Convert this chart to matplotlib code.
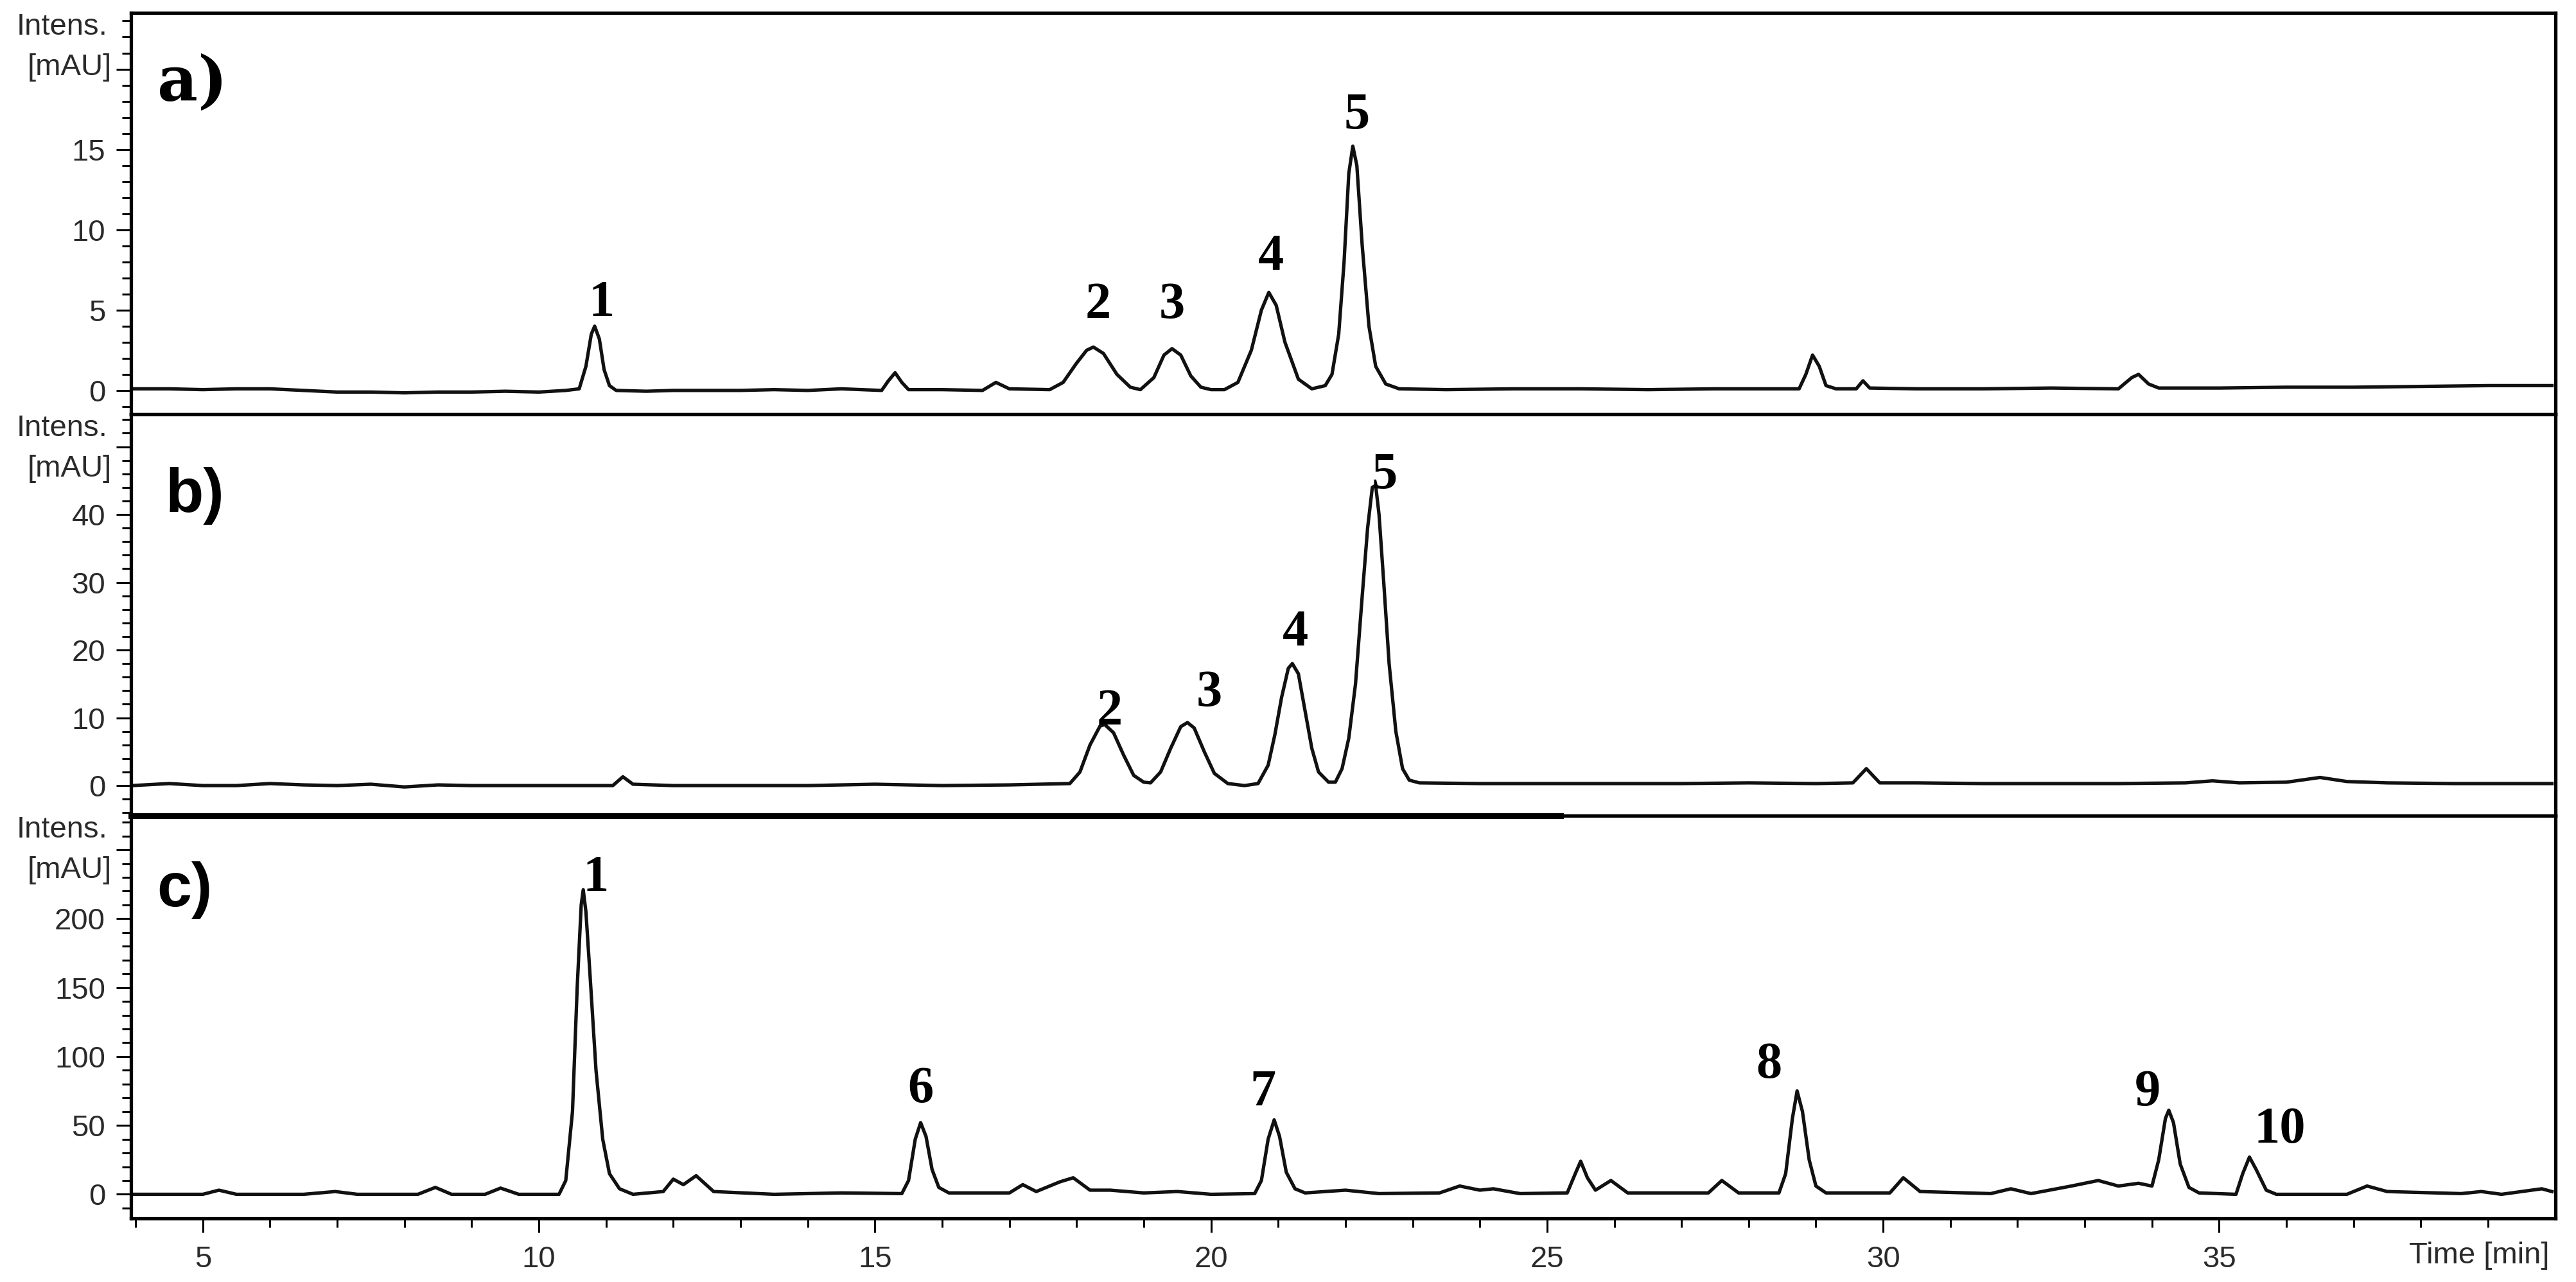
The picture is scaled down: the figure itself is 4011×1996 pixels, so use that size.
import matplotlib
matplotlib.use("Agg")
import matplotlib.pyplot as plt
from matplotlib.lines import Line2D

# ---- traced chromatogram a) ----
a_time = [3.95, 4.5, 5.0, 5.5, 6.0, 6.5, 7.0, 7.5, 8.0, 8.5, 9.0, 9.5, 10.0, 10.4,
          10.6, 10.7, 10.78, 10.83, 10.9, 10.97, 11.05, 11.15, 11.6, 12.0, 12.5, 13.0,
          13.5, 14.0, 14.5, 15.1, 15.2, 15.3, 15.4, 15.5, 16.0, 16.6, 16.8, 17.0,
          17.6, 17.8, 18.0, 18.15, 18.25, 18.4, 18.6, 18.8, 18.95, 19.15, 19.3, 19.42,
          19.55, 19.7, 19.85, 20.0, 20.2, 20.4, 20.6, 20.75, 20.86, 20.97, 21.1, 21.3,
          21.5, 21.7, 21.8, 21.9, 21.98, 22.05, 22.11, 22.17, 22.25, 22.35, 22.45,
          22.6, 22.8, 23.5, 24.5, 25.5, 26.5, 27.5, 28.3, 28.75, 28.85, 28.95, 29.05,
          29.15, 29.3, 29.6, 29.7, 29.8, 30.5, 31.5, 32.5, 33.5, 33.7, 33.8, 33.95,
          34.1, 35.0, 36.0, 37.0, 38.0, 39.0, 39.95]
a_int = [0.1, 0.1, 0.05, 0.1, 0.1, 0.0, -0.1, -0.1, -0.15, -0.1, -0.1, -0.05, -0.1, 0.0,
         0.1, 1.5, 3.5, 4.0, 3.2, 1.3, 0.3, 0.0, -0.05, 0.0, 0.0, 0.0,
         0.05, 0.0, 0.1, 0.0, 0.6, 1.1, 0.5, 0.05, 0.05, 0.0, 0.5, 0.1,
         0.05, 0.5, 1.7, 2.5, 2.7, 2.3, 1.0, 0.2, 0.05, 0.8, 2.2, 2.6,
         2.2, 0.9, 0.2, 0.05, 0.05, 0.5, 2.5, 5.0, 6.1, 5.3, 3.0, 0.7,
         0.1, 0.3, 1.0, 3.5, 8.0, 13.5, 15.2, 14.0, 9.0, 4.0, 1.5,
         0.4, 0.1, 0.05, 0.1, 0.1, 0.05, 0.1, 0.1, 0.1, 1.0, 2.2, 1.5,
         0.3, 0.1, 0.1, 0.6, 0.15, 0.1, 0.1, 0.15, 0.1, 0.8, 1.0, 0.4,
         0.15, 0.15, 0.2, 0.2, 0.25, 0.3, 0.3]

# ---- traced chromatogram b) ----
b_time = [3.95, 4.5, 5.0, 5.5, 6.0, 6.5, 7.0, 7.5, 8.0, 8.5, 9.0, 9.5, 10.0, 10.5,
          11.1, 11.25, 11.4, 12.0, 13.0, 14.0, 15.0, 16.0, 17.0, 17.9, 18.05, 18.2,
          18.35, 18.42, 18.55, 18.7, 18.85, 19.0, 19.1, 19.25, 19.4, 19.55, 19.65,
          19.75, 19.9, 20.05, 20.25, 20.5, 20.7, 20.85, 20.95, 21.05, 21.15, 21.21,
          21.3, 21.4, 21.5, 21.6, 21.75, 21.85, 21.95, 22.05, 22.15, 22.25, 22.33,
          22.4, 22.45, 22.5, 22.57, 22.65, 22.75, 22.85, 22.95, 23.1, 24.0, 25.0,
          26.0, 27.0, 28.0, 29.0, 29.55, 29.75, 29.95, 30.5, 31.5, 32.5, 33.5, 34.5,
          34.9, 35.3, 36.0, 36.5, 36.9, 37.5, 38.5, 39.95]
b_int = [0.0, 0.3, 0.0, 0.0, 0.3, 0.1, 0.0, 0.2, -0.2, 0.1, 0.0, 0.0, 0.0, 0.0,
         0.0, 1.3, 0.2, 0.0, 0.0, 0.0, 0.2, 0.0, 0.1, 0.3, 2.0, 6.0,
         8.8, 9.0, 7.8, 4.5, 1.5, 0.5, 0.4, 2.0, 5.5, 8.7, 9.3,
         8.5, 5.0, 1.8, 0.3, 0.0, 0.3, 3.0, 7.5, 13.0, 17.3, 18.0,
         16.5, 11.0, 5.5, 2.0, 0.5, 0.5, 2.5, 7.0, 15.0, 28.0, 38.0,
         44.0, 44.3, 40.0, 30.0, 18.0, 8.0, 2.5, 0.8, 0.4, 0.3, 0.3,
         0.3, 0.3, 0.4, 0.3, 0.4, 2.5, 0.4, 0.4, 0.3, 0.3, 0.3, 0.4,
         0.7, 0.4, 0.5, 1.2, 0.6, 0.4, 0.3, 0.3]

# ---- traced chromatogram c) ----
c_time = [3.95, 5.0, 5.24, 5.5, 6.5, 6.97, 7.3, 8.2, 8.46, 8.7, 9.2, 9.43, 9.7, 10.3,
          10.4, 10.5, 10.57, 10.63, 10.66, 10.7, 10.76, 10.85, 10.95, 11.05, 11.2,
          11.4, 11.85, 12.0, 12.15, 12.34, 12.6, 13.5, 14.5, 15.4, 15.5, 15.6, 15.68,
          15.76, 15.85, 15.95, 16.1, 17.0, 17.2, 17.4, 17.75, 17.95, 18.2, 18.5, 19.0,
          19.5, 20.0, 20.65, 20.75, 20.85, 20.94, 21.02, 21.12, 21.25, 21.4, 22.0,
          22.5, 23.4, 23.7, 24.0, 24.2, 24.6, 25.3, 25.42, 25.5, 25.6, 25.72, 25.95,
          26.2, 27.4, 27.6, 27.85, 28.45, 28.55, 28.65, 28.72, 28.8, 28.9, 29.0,
          29.15, 30.1, 30.3, 30.55, 31.6, 31.9, 32.2, 32.8, 33.2, 33.5, 33.8, 34.0,
          34.1, 34.2, 34.25, 34.32, 34.42, 34.55, 34.7, 35.25, 35.35, 35.45, 35.55,
          35.7, 35.85, 36.9, 37.2, 37.5, 38.6, 38.9, 39.2, 39.8, 39.95]
c_int = [0.0, 0.0, 3.0, 0.0, 0.0, 2.0, 0.0, 0.0, 5.0, 0.0, 0.0, 4.5, 0.0, 0.0,
         10.0, 60.0, 150.0, 210.0, 221.0, 205.0, 160.0, 90.0, 40.0, 15.0, 4.0,
         0.0, 2.0, 11.0, 7.0, 13.5, 2.0, 0.0, 1.0, 0.5, 10.0, 40.0, 52.0,
         42.0, 18.0, 5.0, 1.0, 1.0, 7.0, 2.0, 9.0, 12.0, 3.0, 3.0, 1.0,
         2.0, 0.0, 0.5, 10.0, 40.0, 54.0, 42.0, 16.0, 4.0, 1.0, 3.0,
         0.5, 1.0, 6.0, 3.0, 4.0, 0.5, 1.0, 15.0, 24.0, 12.0, 3.0, 10.0,
         1.0, 1.0, 10.0, 1.0, 1.0, 15.0, 55.0, 75.0, 60.0, 25.0, 6.0,
         1.0, 1.0, 12.0, 2.0, 0.5, 4.0, 0.5, 6.0, 10.0, 6.0, 8.0, 6.0,
         25.0, 55.0, 61.0, 52.0, 22.0, 5.0, 1.0, 0.0, 15.0, 27.0, 18.0,
         3.0, 0.0, 0.0, 6.0, 2.0, 0.5, 2.0, 0.0, 4.0, 2.0]

# ---- peak labels (number, time, intensity) ----
a_labels = ["1", "2", "3", "4", "5"]
a_lab_t = [10.93, 18.32, 19.42, 20.89, 22.17]
a_lab_y = [5.4, 5.3, 5.3, 8.3, 17.1]
b_labels = ["2", "3", "4", "5"]
b_lab_t = [18.49, 19.97, 21.26, 22.58]
b_lab_y = [10.9, 13.6, 22.5, 45.7]
c_labels = ["1", "6", "7", "8", "9", "10"]
c_lab_t = [10.85, 15.68, 20.77, 28.3, 33.93, 35.9]
c_lab_y = [229.5, 75.8, 73.5, 93.7, 73.5, 46.8]

panels = ["a)", "b)", "c)"]
y_limits = [(-1.48, 23.5), (-4.45, 54.8), (-17.5, 274.7)]
y_major = [[0, 5, 10, 15, 20], [0, 10, 20, 30, 40, 50], [0, 50, 100, 150, 200, 250]]
y_minor_step = [1, 2, 10]
x_limits = (3.93, 40.0)

TRACE = "#111111"
LABEL_GREY = "#2a2a2a"
tick_font = ["Liberation Sans Narrow", "Liberation Sans", "DejaVu Sans"]

fig = plt.figure(figsize=(20.06, 9.98), dpi=200)
left, width = 0.0508, 0.9409
boxes = [(left, 0.6769, width, 0.3131),
         (left, 0.3637, width, 0.3132),
         (left, 0.0496, width, 0.3141)]

series = [(a_time, a_int), (b_time, b_int), (c_time, c_int)]
labels = [(a_labels, a_lab_t, a_lab_y), (b_labels, b_lab_t, b_lab_y),
          (c_labels, c_lab_t, c_lab_y)]
letter_pos = [(0.0254, 0.824), (0.0265, 0.797), (0.0222, 0.815)]

for i, box in enumerate(boxes):
    ax = fig.add_axes(box)
    t, y = series[i]
    ax.plot(t, y, color=TRACE, lw=1.9, solid_joinstyle="round")
    ax.set_xlim(*x_limits)
    ax.set_ylim(*y_limits[i])

    for s in ax.spines.values():
        s.set_linewidth(1.9)
        s.set_color("black")

    # y axis: majors with labels, top major label replaced by units text
    ymaj = y_major[i]
    ax.set_yticks(ymaj)
    ax.set_yticklabels([str(v) for v in ymaj[:-1]] + [""])
    lo, hi = y_limits[i]
    step = y_minor_step[i]
    start = int(lo // step) * step
    minors = [start + k * step for k in range(int((hi - start) / step) + 2)]
    ax.set_yticks([m for m in minors if lo <= m <= hi and m not in ymaj], minor=True)
    ax.tick_params(axis="y", which="major", direction="out", length=8.3, width=1.1,
                   pad=6, labelsize=17, labelcolor=LABEL_GREY)
    ax.tick_params(axis="y", which="minor", direction="out", length=5, width=1.1)
    for lab in ax.get_yticklabels():
        lab.set_family(tick_font)

    ax.text(-0.0095, 0.965, "Intens.", transform=ax.transAxes, ha="right",
            va="center", fontsize=17, color=LABEL_GREY, family=tick_font)
    ax.text(-0.008, 0.864, "[mAU]", transform=ax.transAxes, ha="right",
            va="center", fontsize=17, color=LABEL_GREY, family=tick_font)

    # x axis only on the bottom panel
    if i < 2:
        ax.set_xticks([])
    else:
        ax.set_xticks([5, 10, 15, 20, 25, 30, 35])
        ax.set_xticks([m for m in range(4, 41) if m % 5 != 0], minor=True)
        ax.tick_params(axis="x", which="major", direction="out", length=8, width=1.1,
                       pad=7, labelsize=17, labelcolor=LABEL_GREY)
        ax.tick_params(axis="x", which="minor", direction="out", length=5, width=1.1)
        for lab in ax.get_xticklabels():
            lab.set_family(tick_font)
        ax.text(0.9975, -0.093, "Time [min]", transform=ax.transAxes, ha="right",
                va="center", fontsize=17, color=LABEL_GREY, family=tick_font)

    # panel letter
    lx, ly = letter_pos[i]
    ax.text(lx, ly, panels[i], transform=ax.transAxes, ha="center", va="center",
            fontsize=35, fontweight="bold",
            family=["DejaVu Serif"] if i == 0 else ["Liberation Sans"])

    # peak numbers
    names, lt, ly_ = labels[i]
    for n, xx, yy in zip(names, lt, ly_):
        ax.text(xx, yy, n, ha="center", va="center", fontsize=29,
                fontweight="bold", family=["Liberation Serif"], color="black")

# heavier stitch line under panel b (left part only)
fig.add_artist(Line2D([left, 2430 / 4012], [0.3637, 0.3637], lw=3.2,
                      color="black", transform=fig.transFigure))

fig.savefig("out.png", dpi=200, facecolor="white")
